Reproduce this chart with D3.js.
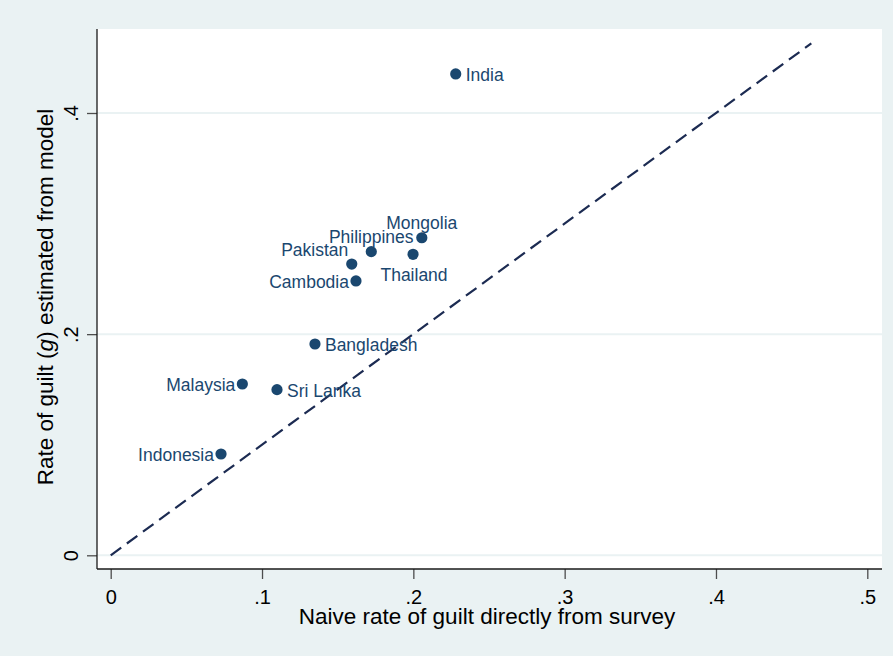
<!DOCTYPE html>
<html>
<head>
<meta charset="utf-8">
<script src="https://cdn.jsdelivr.net/npm/d3@7"></script>
<style>
  html, body { margin: 0; padding: 0; background: #eaf2f3; }
  svg { display: block; }
  text { font-family: "Liberation Sans", Arial, Helvetica, sans-serif; }
</style>
</head>
<body>
<svg id="chart" width="893" height="656"></svg>
<script>
// ---- data ----
const countries = ["India", "Mongolia", "Thailand", "Philippines", "Pakistan", "Cambodia", "Bangladesh", "Malaysia", "Sri Lanka", "Indonesia"];
const naiveRate = [0.2280, 0.2056, 0.1998, 0.1722, 0.1593, 0.1621, 0.1350, 0.0870, 0.1099, 0.0729];
const modelRate = [0.4353, 0.2872, 0.2722, 0.2746, 0.2634, 0.2481, 0.1911, 0.1549, 0.1498, 0.0916];
const labelClock = [3, 12, 6, 12, 10, 9, 3, 9, 3, 9];   // marker-label clock position
const xTicks = [0, 0.1, 0.2, 0.3, 0.4, 0.5];
const yTicks = [0, 0.2, 0.4];
const lineEnd = 0.463;   // extent of 45-degree reference line
const xTitle = "Naive rate of guilt directly from survey";

// ---- layout ----
const W = 893, H = 656;
const plot = { left: 97, right: 882, top: 29, bottom: 569 };
const svg = d3.select("#chart");

svg.append("rect").attr("width", W).attr("height", H).attr("fill", "#eaf2f3");

const x = d3.scaleLinear().domain([0, 0.5]).range([110.7, 867.3]);
const y = d3.scaleLinear().domain([0, 0.4]).range([555.3, 113]);

svg.append("rect")
  .attr("x", plot.left).attr("y", plot.top)
  .attr("width", plot.right - plot.left).attr("height", plot.bottom - plot.top)
  .attr("fill", "#ffffff");

// gridlines
svg.append("g").selectAll("line").data(yTicks).join("line")
  .attr("x1", plot.left).attr("x2", plot.right)
  .attr("y1", d => y(d)).attr("y2", d => y(d))
  .attr("stroke", "#eaf2f3").attr("stroke-width", 2);

const fmt = d => d === 0 ? "0" : d3.format(".1f")(d).replace(/^0/, "");

// x axis
const xAxis = d3.axisBottom(x).tickValues(xTicks).tickSize(10).tickFormat(fmt).tickSizeOuter(0);
const gx = svg.append("g").attr("transform", `translate(0,${plot.bottom})`).call(xAxis);
gx.select(".domain").remove();
gx.selectAll(".tick line").attr("stroke", "#4d4d4d").attr("stroke-width", 1.3);
gx.selectAll(".tick text").attr("font-size", 20).attr("fill", "#000").attr("dy", null).attr("y", 35);
svg.append("line").attr("x1", plot.left).attr("x2", plot.right)
  .attr("y1", plot.bottom).attr("y2", plot.bottom)
  .attr("stroke", "#1a1a1a").attr("stroke-width", 1.3);

// y axis
const yAxis = d3.axisLeft(y).tickValues(yTicks).tickSize(10).tickFormat(fmt).tickSizeOuter(0);
const gy = svg.append("g").attr("transform", `translate(${plot.left},0)`).call(yAxis);
gy.select(".domain").remove();
gy.selectAll(".tick line").attr("stroke", "#4d4d4d").attr("stroke-width", 1.3);
gy.selectAll(".tick text")
  .attr("font-size", 20).attr("fill", "#000")
  .attr("x", null).attr("dy", null)
  .attr("text-anchor", "middle")
  .attr("transform", "translate(-18.7,0) rotate(-90)");
svg.append("line").attr("x1", plot.left).attr("x2", plot.left)
  .attr("y1", plot.top).attr("y2", plot.bottom)
  .attr("stroke", "#1a1a1a").attr("stroke-width", 1.3);

// reference line
svg.append("line")
  .attr("x1", x(0)).attr("y1", y(0))
  .attr("x2", x(lineEnd)).attr("y2", y(lineEnd))
  .attr("stroke", "#1c2b52").attr("stroke-width", 2.2)
  .attr("stroke-dasharray", "13,7");

// points
const pts = countries.map((c, i) => ({ name: c, x: naiveRate[i], y: modelRate[i], pos: labelClock[i] }));
svg.append("g").selectAll("circle").data(pts).join("circle")
  .attr("cx", d => x(d.x)).attr("cy", d => y(d.y)).attr("r", 5.6)
  .attr("fill", "#1a476f");

const placement = {
  3:  { dx: 10, dy: 7, anchor: "start" },
  9:  { dx: -7, dy: 7, anchor: "end" },
  12: { dx: 0, dy: -9, anchor: "middle" },
  6:  { dx: 1, dy: 26.5, anchor: "middle" },
  10: { dx: -3.5, dy: -8, anchor: "end" }
};
svg.append("g").selectAll("text").data(pts).join("text")
  .attr("x", d => x(d.x) + placement[d.pos].dx)
  .attr("y", d => y(d.y) + placement[d.pos].dy)
  .attr("text-anchor", d => placement[d.pos].anchor)
  .attr("font-size", 17.5).attr("fill", "#1a476f")
  .text(d => d.name);

// axis titles
svg.append("text")
  .attr("x", (296.7 + 677.3) / 2).attr("y", 624.3)
  .attr("text-anchor", "middle").attr("font-size", 22.5).attr("fill", "#000")
  .text(xTitle);

const yt = svg.append("text")
  .attr("transform", "translate(53.3,297) rotate(-90)")
  .attr("text-anchor", "middle").attr("font-size", 22.5).attr("fill", "#000");
yt.append("tspan").text("Rate of guilt (");
yt.append("tspan").attr("font-style", "italic").text("g");
yt.append("tspan").text(") estimated from model");
</script>
</body>
</html>
